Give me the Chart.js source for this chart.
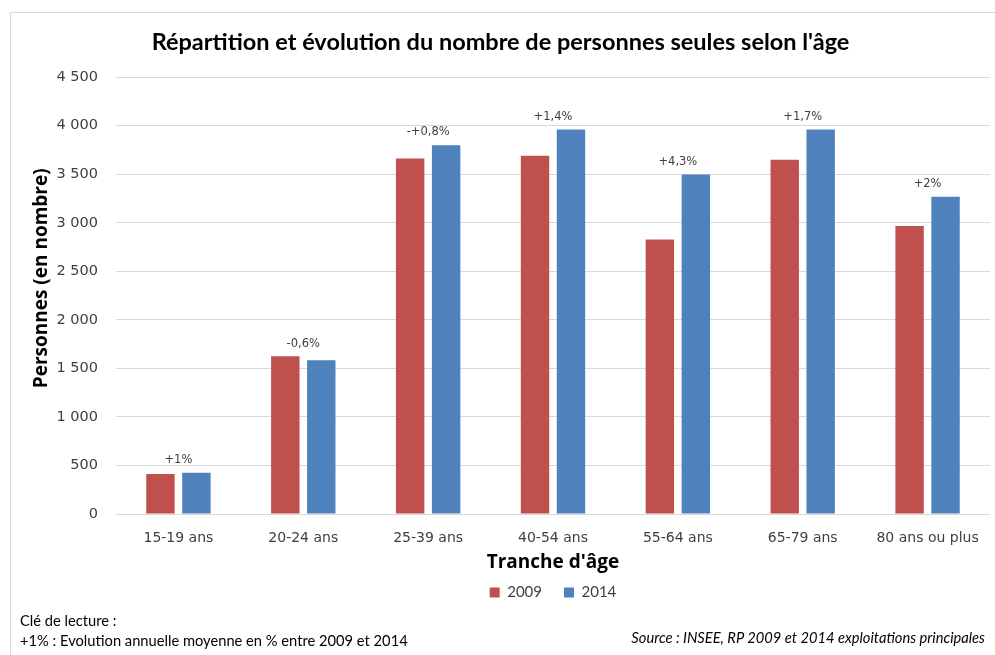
<!DOCTYPE html>
<html>
<head>
<meta charset="utf-8">
<script src="https://cdn.jsdelivr.net/npm/chart.js@4/dist/chart.umd.min.js"></script>
<style>
	body { margin: 0; background: #fff; }
	#wrap { position: relative; width: 995px; height: 655px; overflow: hidden; }
	#frame { position: absolute; left: 10px; top: 12px; width: 1000px; height: 700px; border: 1px solid #d9d9d9; }
	#chart { position: absolute; left: 0; top: 0; }
	.note { position: absolute; font-family: Lato, sans-serif; font-size: 14.7px; color: #000; white-space: nowrap; }
</style>
</head>
<body>
<div id="wrap">
	<div id="frame"></div>
	<canvas id="chart" width="995" height="655"></canvas>
	<div class="note" style="left:20px; top:611px;">Clé de lecture :</div>
	<div class="note" style="left:20px; top:631px;">+1% : Evolution annuelle moyenne en % entre 2009 et 2014</div>
	<div class="note" style="right:10px; top:628px; font-style:italic;">Source : INSEE, RP 2009 et 2014 exploitations principales</div>
</div>
<script>
var categories = ['15-19 ans','20-24 ans','25-39 ans','40-54 ans','55-64 ans','65-79 ans','80 ans ou plus'];
var values2009 = [412,1625,3663,3690,2829,3649,2966];
var values2014 = [425,1585,3800,3961,3498,3961,3268];
var evolution = ['+1%','-0,6%','-+0,8%','+1,4%','+4,3%','+1,7%','+2%'];

// labels d'évolution au-dessus des barres
var evolutionLabels = {
	id: 'evolutionLabels',
	afterDatasetsDraw: function(chart) {
		var ctx = chart.ctx;
		var m0 = chart.getDatasetMeta(0).data;
		var m1 = chart.getDatasetMeta(1).data;
		ctx.save();
		ctx.font = '11.5px "DejaVu Sans"';
		ctx.fillStyle = '#404040';
		ctx.textAlign = 'center';
		ctx.textBaseline = 'bottom';
		evolution.forEach(function(txt, i) {
			var x = (m0[i].x + m1[i].x) / 2;
			var y = Math.min(m0[i].y, m1[i].y) - 7;
			ctx.fillText(txt, x, y);
		});
		ctx.restore();
	}
};

new Chart(document.getElementById('chart'), {
	type: 'bar',
	data: {
		labels: categories,
		datasets: [{
			label: '2009',
			data: values2009,
			backgroundColor: '#c0504d',
			categoryPercentage: 0.576,
			barPercentage: 0.79
		}, {
			label: '2014',
			data: values2014,
			backgroundColor: '#4f81bd',
			categoryPercentage: 0.576,
			barPercentage: 0.79
		}]
	},
	options: {
		responsive: false,
		animation: false,
		layout: {
			padding: { left: 10, right: 4, top: 12, bottom: 45 }
		},
		plugins: {
			title: {
				display: true,
				text: "Répartition et évolution du nombre de personnes seules selon l'âge",
				color: '#000',
				font: { family: 'Lato', size: 23.5, weight: 'bold' },
				padding: { top: 16, bottom: 21 }
			},
			legend: {
				position: 'bottom',
				fullSize: false,
				labels: {
					boxWidth: 10,
					boxHeight: 10,
					padding: 22,
					color: '#404040',
					font: { family: 'Lato', size: 15 }
				}
			},
			tooltip: { enabled: false }
		},
		scales: {
			x: {
				grid: { display: false, drawTicks: false },
				border: { color: '#d9d9d9' },
				ticks: {
					color: '#404040',
					padding: 16,
					font: { family: 'DejaVu Sans', size: 14 }
				},
				title: {
					display: true,
					text: "Tranche d'âge",
					color: '#000',
					font: { family: 'Open Sans', size: 19, weight: 'bold' },
					padding: { top: 0, bottom: -11 }
				},
				afterFit: function(scale) { scale.height = 49; }
			},
			y: {
				min: 0,
				max: 4500,
				grid: { color: '#d9d9d9', drawTicks: false },
				border: { display: false },
				ticks: {
					stepSize: 500,
					color: '#404040',
					padding: 18,
					font: { family: 'DejaVu Sans', size: 14.5 },
					callback: function(v) { return String(v).replace(/\B(?=(\d{3})+(?!\d))/g, ' '); }
				},
				title: {
					display: true,
					text: '       Personnes (en nombre)',
					color: '#000',
					font: { family: 'Open Sans', size: 19, weight: 'bold' },
					padding: { top: 20, bottom: 0 }
				},
				afterFit: function(scale) { scale.width = 106; }
			}
		}
	},
	plugins: [evolutionLabels]
});
</script>
</body>
</html>
